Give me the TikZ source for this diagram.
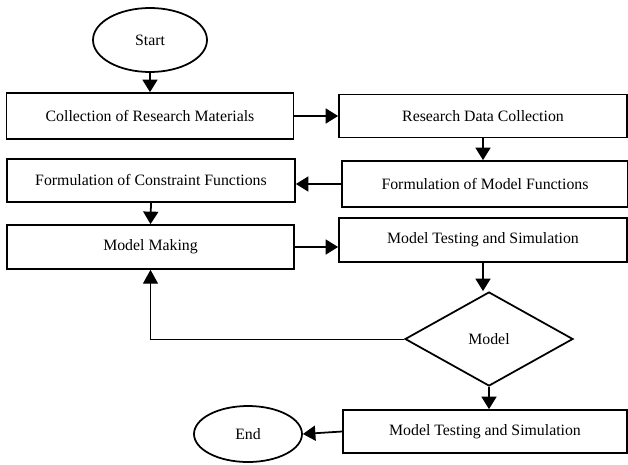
\documentclass[tikz,border=0pt]{standalone}
\usepackage{fontspec}
\setmainfont{Liberation Serif}
\usetikzlibrary{arrows.meta,positioning,shapes.geometric}
\tikzset{
  % PROCESS BOXES
  frameProcess/.style={
    rectangle,
    draw = black,
    line width = 2pt,
    fill = white,
    text centered,
    minimum height = 1.76cm
  },
  % START / END
  frameTerminal/.style={
    ellipse,
    draw = black,
    line width = 2pt,
    fill = white,
    inner sep = 0pt
  },
  % DECISION
  frameDecision/.style={
    diamond,
    draw = black,
    line width = 2pt,
    fill = white,
    inner sep = 0pt
  },
  % MAIN FLOWS
  lineData/.style={
    draw = black, line width = 2pt,
    -{Triangle[length=0.5cm,width=0.6cm]}
  },
  lineLoop/.style={
    draw = black, line width = 1.1pt,
    -{Triangle[length=0.55cm,width=0.6cm]}
  }
}

\begin{document}
\begin{tikzpicture}[font=\fontsize{18}{21}\selectfont]

\useasboundingbox (0,0) rectangle (25.12,-18.56);

% Terminals
\node [frameTerminal, minimum width=4.56cm, minimum height=2.56cm] (start) at (6.0,-1.6) {Start} ;
\node [frameTerminal, minimum width=4.32cm, minimum height=2.24cm] (end) at (9.92,-17.36) {End} ;

% Left column
\node [frameProcess, minimum width=11.48cm, minimum height=1.84cm] (collect_materials) at (6.0,-4.64) {Collection of Research Materials} ;
\node [frameProcess, minimum width=11.52cm, minimum height=1.72cm] (form_constraint) at (6.04,-7.22) {Formulation of Constraint Functions} ;
\node [frameProcess, minimum width=11.48cm] (model_making) at (6.02,-9.88) {Model Making} ;

% Right column
\node [frameProcess, minimum width=11.52cm, minimum height=1.72cm] (collect_data) at (19.32,-4.64) {Research Data Collection} ;
\node [frameProcess, minimum width=11.44cm, minimum height=1.84cm] (form_model) at (19.4,-7.36) {Formulation of Model Functions} ;
\node [frameProcess, minimum width=11.52cm] (model_testing) at (19.32,-9.6) {Model Testing and Simulation} ;
\node [frameDecision, minimum width=6.72cm, minimum height=3.76cm] (model_check) at (19.56,-13.56) {Model} ;
\node [frameProcess, minimum width=11.36cm, minimum height=1.72cm] (model_final) at (19.4,-17.26) {Model Testing and Simulation} ;


% Lines
\path [lineData] (start.south) -- (collect_materials.north) ;
\path [lineData] (collect_materials.east) -- (collect_data.west) ;
\path [lineData] (collect_data.south) -- (collect_data.south |- form_model.north) ;
\path [lineData] (form_model.west) -- (form_model.west -| form_constraint.east) ;
\path [lineData] (form_constraint.south) -- (model_making.north) ;
\path [lineData] (model_making.east) -- (model_making.east -| model_testing.west) ;
\path [lineData] (model_testing.south) -- (model_testing.south |- model_check.north) ;
\path [lineData] (model_check.south) -- (model_check.south |- model_final.north) ;
\path [lineData] (model_final.west) -- (end.east) ;

% Loop back
\path [lineLoop] (model_check.west) -| (model_making.south) ;

\end{tikzpicture}
\end{document}
